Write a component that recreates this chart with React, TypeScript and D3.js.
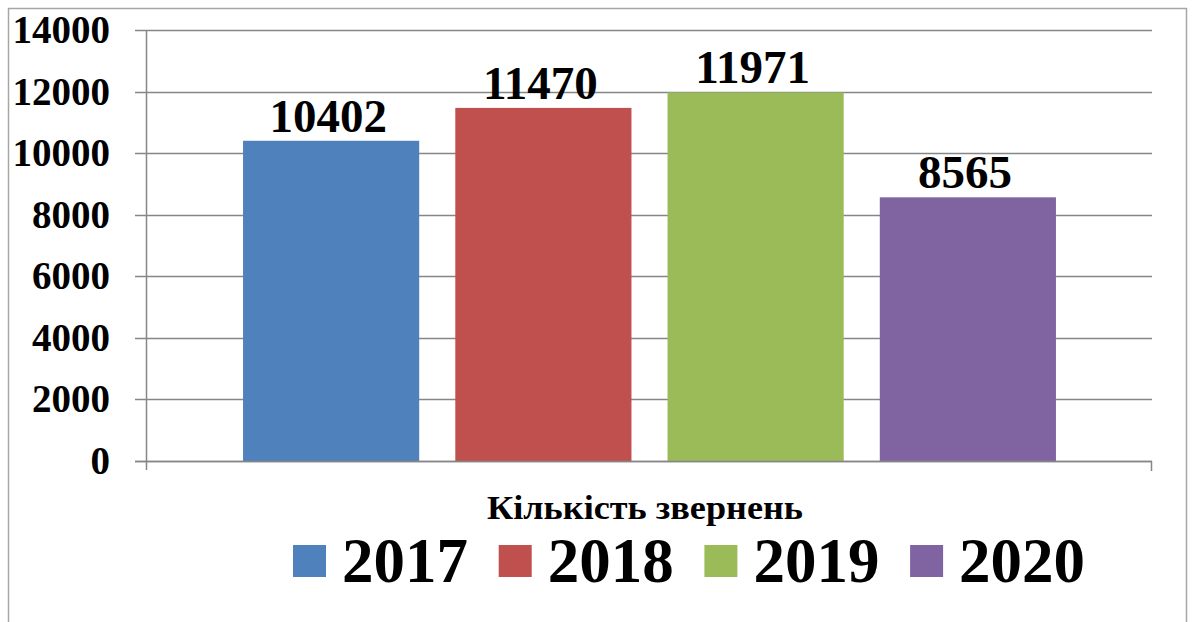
import React from "react";
import * as d3 from "d3";

const categoryLabel = "Кількість звернень";
const years = ["2017", "2018", "2019", "2020"];
const values = [10402, 11470, 11971, 8565];
const colors = ["#4F81BD", "#C0504D", "#9BBB59", "#8064A2"];
const yTicks = [0, 2000, 4000, 6000, 8000, 10000, 12000, 14000];

const W = 1194;
const H = 622;
const plotLeft = 146;
const plotRight = 1152;
const plotTop = 30;
const plotBottom = 461;
const font = "'Liberation Serif', 'Times New Roman', 'DejaVu Serif', serif";

export default function App() {
  const y = d3.scaleLinear().domain([0, 14000]).range([plotBottom, plotTop]);
  const x = d3
    .scaleBand<string>()
    .domain(years)
    .range([225, 1074])
    .paddingInner(0.17)
    .paddingOuter(0.085);

  const gridColor = "#868686";
  const legendStart = 293;
  const legendStep = 205.7;

  return (
    <svg
      width={W}
      height={H}
      style={{ position: "absolute", left: 0, top: 0, background: "#fff" }}
    >
      <rect x={0} y={0} width={W} height={H} fill="#fff" />
      <path
        d={`M8.5,${H + 2} L8.5,8.5 L1186.5,8.5 L1186.5,${H + 2}`}
        fill="none"
        stroke="#a6a6a6"
        strokeWidth={1.5}
      />
      {yTicks.map((t) => (
        <g key={t}>
          <line
            x1={135}
            x2={plotRight}
            y1={Math.round(y(t)) + 0.5}
            y2={Math.round(y(t)) + 0.5}
            stroke={gridColor}
            strokeWidth={1.5}
          />
          <text
            x={110}
            y={y(t) + 13}
            textAnchor="end"
            fontFamily={font}
            fontWeight="bold"
            fontSize={39}
            fill="#000"
          >
            {t}
          </text>
        </g>
      ))}
      <line
        x1={plotLeft + 0.5}
        x2={plotLeft + 0.5}
        y1={plotTop}
        y2={470}
        stroke={gridColor}
        strokeWidth={1.5}
      />
      <line
        x1={plotRight - 0.5}
        x2={plotRight - 0.5}
        y1={plotBottom}
        y2={471}
        stroke={gridColor}
        strokeWidth={1.5}
      />
      {years.map((yr, i) => (
        <g key={yr}>
          <rect
            x={x(yr)}
            y={y(values[i])}
            width={x.bandwidth()}
            height={plotBottom - y(values[i])}
            fill={colors[i]}
          />
          <text
            x={(x(yr) as number) + x.bandwidth() / 2 - 3}
            y={y(values[i]) - 9}
            textAnchor="middle"
            fontFamily={font}
            fontWeight="bold"
            fontSize={47}
            fill="#000"
          >
            {values[i]}
          </text>
        </g>
      ))}
      <line
        x1={135}
        x2={plotRight}
        y1={plotBottom + 0.5}
        y2={plotBottom + 0.5}
        stroke={gridColor}
        strokeWidth={1.5}
      />
      <text
        x={487}
        y={519}
        textLength={316}
        lengthAdjust="spacingAndGlyphs"
        fontFamily="'Liberation Serif', 'DejaVu Serif', serif"
        fontWeight="bold"
        fontSize={34}
        fill="#000"
      >
        {categoryLabel}
      </text>
      {years.map((yr, i) => {
        const lx = legendStart + i * legendStep;
        return (
          <g key={"lg" + yr}>
            <rect x={lx} y={545} width={33} height={32} fill={colors[i]} />
            <text
              x={lx + 49}
              y={582}
              fontFamily={font}
              fontWeight="bold"
              fontSize={63}
              fill="#000"
            >
              {yr}
            </text>
          </g>
        );
      })}
    </svg>
  );
}
